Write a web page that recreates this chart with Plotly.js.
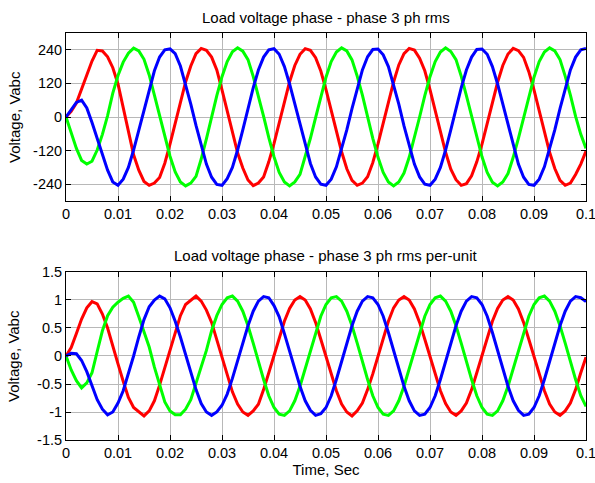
<!DOCTYPE html>
<html>
<head>
<meta charset="utf-8">
<script src="https://cdn.plot.ly/plotly-3.0.1.min.js"></script>
<style>html,body{margin:0;padding:0;background:#fff;}#chart{width:595px;height:483px;}</style>
</head>
<body>
<div id="chart"></div>
<script>
// sampling of the time axis (seconds)
const t0 = 0;
const dt = 0.001;

// Top panel: load voltage, V (every 1 ms)
const redTop = [0,20,50,100,148,200,238,236,215,176,
  118,30,-55,-135,-190,-230,-244,-236,-216,-165,
  -97,-23,55,125,182,226,245,238,214,168,
  97,25,-52,-128,-182,-225,-245,-236,-214,-160,
  -95,-22,52,126,184,224,244,238,212,164,
  98,24,-54,-124,-185,-226,-244,-236,-213,-163,
  -96,-22,55,125,186,226,245,239,210,165,
  98,22,-52,-126,-186,-224,-244,-238,-210,-160,
  -97,-24,54,124,184,225,245,237,213,162,
  97,23,-55,-126,-184,-226,-244,-236,-205,-168,
  -122];
const greenTop = [0,-55,-112,-155,-168,-158,-118,-62,5,85,
  148,196,228,246,236,206,150,78,2,-72,
  -140,-196,-232,-246,-236,-212,-150,-78,0,76,
  144,198,233,247,235,205,145,76,2,-74,
  -142,-198,-232,-246,-232,-205,-145,-76,-2,74,
  142,198,232,247,236,204,146,78,0,-76,
  -144,-198,-232,-246,-232,-200,-144,-76,0,76,
  144,198,232,247,234,205,146,76,2,-74,
  -142,-198,-233,-246,-232,-202,-144,-76,-2,74,
  142,198,232,247,236,205,146,78,2,-62,
  -112];
const blueTop = [0,28,52,60,32,-20,-75,-132,-190,-232,
  -244,-222,-180,-118,-48,28,100,165,214,240,
  243,226,182,118,46,-30,-104,-168,-215,-241,
  -244,-220,-180,-118,-46,30,104,168,214,240,
  244,224,180,118,46,-30,-104,-166,-214,-240,
  -244,-222,-178,-116,-46,30,104,168,215,241,
  243,222,180,116,46,-32,-104,-168,-214,-240,
  -244,-222,-180,-118,-46,30,104,168,214,241,
  243,224,180,118,46,-30,-104,-168,-215,-241,
  -244,-222,-178,-116,-46,30,104,168,214,240,
  245];

// Bottom panel: per-unit values
const redPu = [0,0.15,0.4,0.66,0.86,0.97,0.93,0.75,0.5,0.2,
  -0.14,-0.45,-0.74,-0.92,-1.0,-1.07,-0.98,-0.8,-0.52,-0.2,
  0.12,0.44,0.72,0.92,1.0,1.07,0.98,0.82,0.6,0.3,
  -0.02,-0.34,-0.64,-0.86,-1.0,-1.06,-0.98,-0.86,-0.6,-0.3,
  0.02,0.34,0.62,0.85,1.0,1.06,1.0,0.84,0.6,0.3,
  0,-0.32,-0.62,-0.86,-1.0,-1.07,-0.98,-0.84,-0.6,-0.32,
  0,0.32,0.62,0.86,1.0,1.06,1.0,0.84,0.6,0.3,
  0,-0.32,-0.62,-0.85,-1.0,-1.06,-0.98,-0.84,-0.6,-0.3,
  0.02,0.32,0.62,0.85,1.0,1.06,1.0,0.84,0.6,0.3,
  0,-0.32,-0.62,-0.86,-1.0,-1.06,-0.98,-0.84,-0.6,-0.3,
  -0.02];
const greenPu = [0,-0.25,-0.44,-0.57,-0.48,-0.3,0.08,0.45,0.72,0.87,
  0.96,1.03,1.07,0.96,0.7,0.44,0.16,-0.2,-0.53,-0.82,
  -0.98,-1.05,-1.05,-0.95,-0.78,-0.5,-0.2,0.1,0.45,0.72,
  0.92,1.04,1.07,0.98,0.8,0.54,0.23,-0.1,-0.42,-0.71,
  -0.92,-1.04,-1.06,-0.98,-0.8,-0.54,-0.23,0.1,0.42,0.71,
  0.92,1.04,1.06,0.98,0.8,0.54,0.23,-0.1,-0.42,-0.71,
  -0.92,-1.04,-1.06,-0.98,-0.8,-0.54,-0.23,0.1,0.42,0.71,
  0.92,1.04,1.07,0.98,0.8,0.54,0.23,-0.1,-0.42,-0.71,
  -0.92,-1.04,-1.06,-0.98,-0.8,-0.54,-0.23,0.1,0.42,0.71,
  0.92,1.04,1.07,0.98,0.8,0.54,0.23,-0.1,-0.42,-0.71,
  -0.9];
const bluePu = [0,0.05,0.04,-0.08,-0.28,-0.52,-0.78,-0.95,-1.05,-1.0,
  -0.84,-0.62,-0.32,0.0,0.34,0.65,0.88,1.0,1.07,1.02,
  0.86,0.62,0.34,0.02,-0.3,-0.6,-0.85,-1.0,-1.06,-1.0,
  -0.88,-0.68,-0.4,-0.08,0.24,0.54,0.8,0.98,1.06,1.04,
  0.9,0.7,0.4,0.08,-0.24,-0.54,-0.8,-0.97,-1.06,-1.03,
  -0.92,-0.71,-0.42,-0.1,0.23,0.54,0.8,0.98,1.06,1.04,
  0.92,0.71,0.42,0.1,-0.23,-0.54,-0.8,-0.98,-1.06,-1.04,
  -0.92,-0.71,-0.42,-0.1,0.23,0.54,0.8,0.98,1.06,1.04,
  0.92,0.71,0.42,0.1,-0.23,-0.54,-0.8,-0.97,-1.06,-1.04,
  -0.92,-0.71,-0.42,-0.1,0.23,0.54,0.8,0.98,1.06,1.04,
  0.97];

// Tick labels
const xTickVals = [0,0.01,0.02,0.03,0.04,0.05,0.06,0.07,0.08,0.09,0.1];
const xTickText = ["0","0.01","0.02","0.03","0.04","0.05","0.06","0.07","0.08","0.09","0.1"];
const yTopVals = [-240,-120,0,120,240];
const yTopText = ["-240","-120","0","120","240"];
const yPuVals = [-1.5,-1,-0.5,0,0.5,1,1.5];
const yPuText = ["-1.5","-1","-0.5","0","0.5","1","1.5"];

// Text
const titleTop = "Load voltage phase - phase 3 ph rms";
const titleBottom = "Load voltage phase - phase 3 ph rms per-unit";
const yTitle = "Voltage, Vabc";
const xTitle = "Time, Sec";

const colors = ["#ff0000", "#00ff00", "#0000ff"];

function tr(y, c, xa, ya) {
  return {type: "scatter", mode: "lines", x0: t0, dx: dt, y: y,
    xaxis: xa, yaxis: ya, line: {color: c, width: 3}, hoverinfo: "skip", cliponaxis: true};
}

const data = [
  tr(redTop, colors[0], "x", "y"),
  tr(greenTop, colors[1], "x", "y"),
  tr(blueTop, colors[2], "x", "y"),
  tr(redPu, colors[0], "x2", "y2"),
  tr(greenPu, colors[1], "x2", "y2"),
  tr(bluePu, colors[2], "x2", "y2")
];

const axisCommon = {
  ticks: "inside", ticklen: 5, tickwidth: 1, tickcolor: "#000",
  showline: true, linecolor: "#000", linewidth: 1, mirror: "ticks",
  showgrid: true, gridcolor: "#b8b8b8", gridwidth: 1, zeroline: false,
  tickfont: {size: 14.5, color: "#000"}, tickmode: "array",
  ticklabeloverflow: "allow"
};

const xRange = [-0.0000001, 0.1000001];

const layout = {
  width: 595, height: 483,
  margin: {l: 66, r: 9, t: 33, b: 43, autoexpand: false},
  paper_bgcolor: "#ffffff", plot_bgcolor: "#ffffff",
  font: {family: "Liberation Sans, Arial, sans-serif", size: 15, color: "#000"},
  showlegend: false,
  xaxis: Object.assign({}, axisCommon, {domain: [0, 1], anchor: "y", range: xRange,
    tickvals: xTickVals, ticktext: xTickText}),
  yaxis: Object.assign({}, axisCommon, {domain: [0.5872, 1], anchor: "x", range: [-300, 300],
    tickvals: yTopVals, ticktext: yTopText}),
  xaxis2: Object.assign({}, axisCommon, {domain: [0, 1], anchor: "y2", range: xRange,
    tickvals: xTickVals, ticktext: xTickText,
    title: {text: xTitle, font: {size: 15}, standoff: 2}}),
  yaxis2: Object.assign({}, axisCommon, {domain: [0, 0.4128], anchor: "x2", range: [-1.5, 1.5],
    tickvals: yPuVals, ticktext: yPuText}),
  annotations: [
    {text: titleTop, xref: "paper", yref: "paper", x: 0.5, y: 1.039, xanchor: "center", yanchor: "middle",
     showarrow: false, font: {size: 15, color: "#000"}},
    {text: titleBottom, xref: "paper", yref: "paper", x: 0.5, y: 0.4545, xanchor: "center", yanchor: "middle",
     showarrow: false, font: {size: 15, color: "#000"}},
    {text: yTitle, xref: "paper", yref: "paper", x: -0.1, y: 0.7936, xanchor: "center", yanchor: "middle",
     textangle: -90, showarrow: false, font: {size: 15, color: "#000"}},
    {text: yTitle, xref: "paper", yref: "paper", x: -0.1, y: 0.2064, xanchor: "center", yanchor: "middle",
     textangle: -90, showarrow: false, font: {size: 15, color: "#000"}}
  ]
};

Plotly.newPlot("chart", data, layout, {staticPlot: true, displayModeBar: false});
</script>
</body>
</html>
